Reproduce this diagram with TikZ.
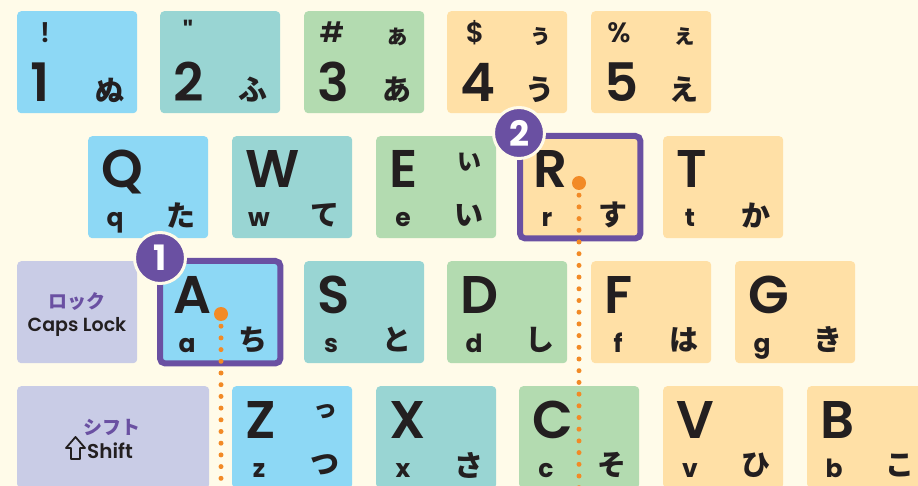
\documentclass[tikz,border=0pt]{standalone}
\usepackage{fontspec}
\setmainfont{Poppins}[BoldFont={Poppins SemiBold}]
\newfontfamily\plainf{Poppins}[Ligatures=TeXOff,BoldFont={Poppins SemiBold}]
\newfontfamily\heavyf{Poppins Bold}
\newfontfamily\jp{Noto Sans CJK JP}
\usetikzlibrary{calc}
\definecolor{bg}{HTML}{FFFBE9}
\definecolor{kblue}{HTML}{8DD8F5}
\definecolor{kteal}{HTML}{99D5D3}
\definecolor{kgreen}{HTML}{B3DBB0}
\definecolor{kpeach}{HTML}{FFE0A6}
\definecolor{klav}{HTML}{C9CCE6}
\definecolor{kpurple}{HTML}{6A50A2}
\definecolor{korange}{HTML}{F28A26}
\definecolor{ink}{HTML}{231F20}
\newcommand\lkey[8]{%
  \node[keybox,fill=#4] (#1) at (#2,#3) {};
  \node[bigtxt] (#1b) at ($(#1.north west)+(13,52)$) {#5};
  \node[lowtxt] (#1l) at ($(#1.north west)+(27,91)$) {#6};
  \node[kanatxt] (#1k) at ($(#1.north west)+(93,79)$) {#7};
  \if\relax\detokenize{#8}\relax\else
  \node[skanatxt] (#1s) at ($(#1.north west)+(93,26)$) {#8};\fi
}
\newcommand\dkey[8]{%
  \node[keybox,fill=#4] (#1) at (#2,#3) {};
  \node[symtxt] (#1y) at ($(#1.north west)+(28,32)$) {#5};
  \node[bigtxt] (#1b) at ($(#1.north west)+(13,91)$) {#6};
  \node[kanatxt] (#1k) at ($(#1.north west)+(93,79)$) {#7};
  \if\relax\detokenize{#8}\relax\else
  \node[skanatxt] (#1s) at ($(#1.north west)+(93,26)$) {#8};\fi
}
\begin{document}
\begin{tikzpicture}[x=1pt,y=-1pt,
  keybox/.style={rounded corners=4pt, inner sep=0pt, minimum width=120pt, minimum height=102pt, anchor=north west},
  bigtxt/.style={anchor=base west, inner sep=0pt, text=ink, font=\bfseries\fontsize{53}{53}\selectfont},
  lowtxt/.style={anchor=base, inner sep=0pt, text=ink, font=\heavyf\fontsize{25}{25}\selectfont},
  kanatxt/.style={anchor=center, inner sep=0pt, text=ink, font=\jp\bfseries\fontsize{29}{29}\selectfont},
  skanatxt/.style={anchor=center, inner sep=0pt, text=ink, font=\jp\bfseries\fontsize{24}{24}\selectfont},
  symtxt/.style={anchor=base, inner sep=0pt, text=ink, font=\plainf\bfseries\fontsize{28}{28}\selectfont},
  hilite/.style={draw=kpurple, line width=6pt, rounded corners=5pt},
  odot/.style={circle, fill=korange, inner sep=0pt, minimum size=14pt},
  dotline/.style={draw=korange, line width=5pt, line cap=round, dash pattern=on 0pt off 11.7pt, dash phase=6.7pt},
  badge/.style={circle, fill=kpurple, draw=bg, line width=3pt, minimum size=51pt, inner sep=0pt, text=white, font=\heavyf\fontsize{35}{35}\selectfont}
]
\useasboundingbox (0,0) rectangle (918,486);
\clip (0,0) rectangle (918,486);
\fill[bg] (0,0) rectangle (918,486);
% row 1
\dkey{k1}{17}{11}{kblue}{!}{1}{ぬ}{}
\dkey{k2}{160}{11}{kteal}{"}{2}{ふ}{}
\dkey{k3}{304}{11}{kgreen}{\#}{3}{あ}{ぁ}
\dkey{k4}{447}{11}{kpeach}{\$}{4}{う}{ぅ}
\dkey{k5}{591}{11}{kpeach}{\%}{5}{え}{ぇ}
% row 2
\lkey{kq}{88}{136}{kblue}{Q}{q}{た}{}
\lkey{kw}{232}{136}{kteal}{W}{w}{て}{}
\lkey{ke}{376}{136}{kgreen}{E}{e}{い}{い}
\lkey{kr}{520}{136}{kpeach}{R}{r}{す}{}
\lkey{kt}{663}{136}{kpeach}{T}{t}{か}{}
% row 3
\node[keybox,fill=klav] (caps) at (17,261) {};
\node[inner sep=0pt, text=kpurple, font=\jp\bfseries\fontsize{19}{19}\selectfont] (capsjp) at ($(caps.north west)+(60,41)$) {ロック};
\node[inner sep=0pt, text=ink, font=\bfseries\fontsize{19}{19}\selectfont] (capsen) at ($(caps.north west)+(60,66)$) {Caps Lock};
\lkey{ka}{160}{261}{kblue}{A}{a}{ち}{}
\lkey{ks}{304}{261}{kteal}{S}{s}{と}{}
\lkey{kd}{447}{261}{kgreen}{D}{d}{し}{}
\lkey{kf}{591}{261}{kpeach}{F}{f}{は}{}
\lkey{kg}{735}{261}{kpeach}{G}{g}{き}{}
% row 4
\node[keybox,fill=klav,minimum width=192pt] (shift) at (17,386) {};
\node[inner sep=0pt, text=kpurple, font=\jp\bfseries\fontsize{19}{19}\selectfont] (shiftjp) at ($(shift.north west)+(95,41)$) {シフト};
\node[inner sep=0pt, anchor=west, text=ink, font=\bfseries\fontsize{20}{20}\selectfont] (shiften) at (87,451) {Shift};
\begin{scope}[shift={(shiften.west)}]
  \draw[ink, line width=1.8pt, line join=round] (-11.5,-14) -- (-2,-3) -- (-7,-3) -- (-7,8) -- (-16,8) -- (-16,-3) -- (-21,-3) -- cycle;
\end{scope}
\lkey{kz}{232}{386}{kblue}{Z}{z}{つ}{っ}
\lkey{kx}{376}{386}{kteal}{X}{x}{さ}{}
\lkey{kc}{519}{386}{kgreen}{C}{c}{そ}{}
\lkey{kv}{663}{386}{kpeach}{V}{v}{ひ}{}
\lkey{kbb}{807}{386}{kpeach}{B}{b}{こ}{}
% highlights
\draw[hilite] (ka.north west) rectangle (ka.south east);
\draw[hilite] (kr.north west) rectangle (kr.south east);
% dots and dotted lines
\node[odot] (adot) at (221,314) {};
\coordinate (aend) at (221,492);
\draw[dotline] (adot) -- (aend);
\node[odot] (rdot) at (579,183) {};
\coordinate (rend) at (579,492);
\draw[dotline] (rdot) -- (rend);
% badges
\node[badge] (b1) at (160,258) {1};
\node[badge] (b2) at (519,133) {2};
\end{tikzpicture}
\end{document}
